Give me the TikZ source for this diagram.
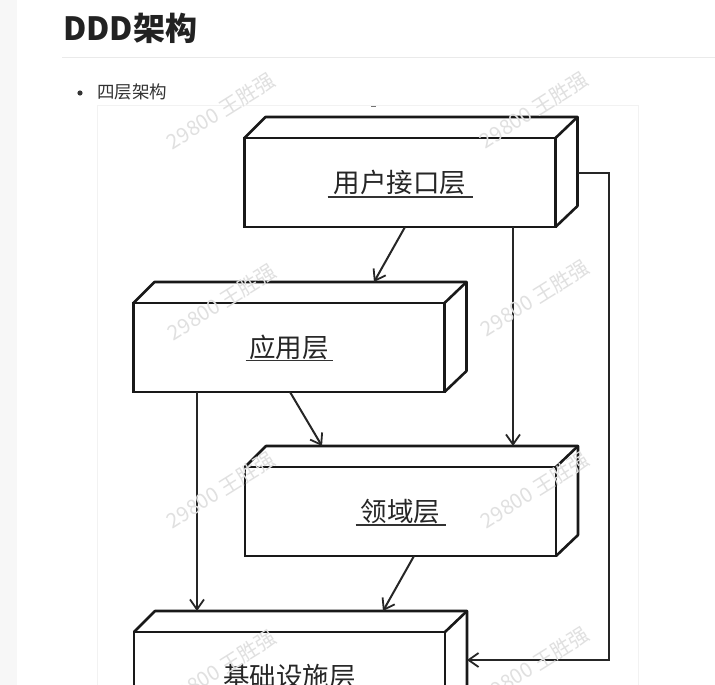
\documentclass[tikz,border=0pt]{standalone}
\usepackage{fontspec}
\setmainfont{Noto Sans CJK SC}
\usetikzlibrary{arrows.meta,calc}
\definecolor{stripgray}{HTML}{F7F7F7}
\definecolor{rulegray}{HTML}{EAEAEA}
\definecolor{textdark}{HTML}{333333}
\definecolor{titledark}{HTML}{222222}
\newcommand\tdfaces[1]{%
  \draw[edge3d] (#1.north west) -- ([shift={(21,-21)}]#1.north west)
     -- ([shift={(22,-21)}]#1.north east) -- ([shift={(22,-21)}]#1.south east)
     -- (#1.south east);
  \draw[edge3d] (#1.north east) -- ([shift={(22,-21)}]#1.north east);}
\newcommand\lblline[3]{%
  \draw[ulline] ([shift={(-#2,#3)}]#1.center) -- ([shift={(#2,#3)}]#1.center);}
\begin{document}
\begin{tikzpicture}[x=1pt,y=-1pt,
  face/.style={draw=black!90, line width=2.6pt, fill=white, minimum width=311pt,
    minimum height=89pt, inner sep=0pt, outer sep=0pt,
    font=\fontsize{26.5}{30}\selectfont, text=black!85},
  edge3d/.style={draw=black!90, line width=2.6pt, line join=round, line cap=round},
  ulline/.style={draw=black!80, line width=1.7pt},
  conn/.style={draw=black!85, line width=2pt,
    -{Straight Barb[length=10pt,width=14pt,line width=1.8pt]}},
  wm/.style={text=black!12, font=\fontsize{20.5}{24}\selectfont, rotate=32, inner sep=0pt}
]
\useasboundingbox (0,0) rectangle (715,685);
\clip (0,0) rectangle (715,685);
\fill[white] (0,0) rectangle (715,685);
\fill[stripgray] (0,0) rectangle (17,685);
% title
\node[anchor=base west, inner sep=0pt, text=titledark, font=\fontsize{32}{38}\selectfont\bfseries] (title) at (63,41) {DDD架构};
\draw[rulegray, line width=1pt] (62,57.5) -- (715,57.5);
% bullet
\fill[textdark] (80,93) circle (2.6);
\node[anchor=base west, inner sep=0pt, text=textdark, font=\fontsize{17.5}{21}\selectfont] (bullet) at (97,99) {四层架构};
% image area
\draw[black!5, line width=0.8pt, fill=white] (97.5,105.5) rectangle (638.5,700);
\draw[black!55, line width=1pt] (371,106) -- (376,106);
% boxes
\node[face] (ui) at (400,182.5) {用户接口层};
\tdfaces{ui}
\lblline{ui}{72.5}{14.5}
\node[face] (app) at (289,347.5) {应用层};
\tdfaces{app}
\lblline{app}{43.5}{13}
\node[face] (dom) at (400.5,511.5) {领域层};
\tdfaces{dom}
\lblline{dom}{45}{13.5}
\node[face] (infra) at (289.5,676.5) {基础设施层};
\tdfaces{infra}
\lblline{infra}{72.5}{14.5}
% connectors
\draw[conn] ([xshift=5]ui.south) -- ([shift={(85,-21)}]app.north);
\draw[conn] ([xshift=113]ui.south) -- ([shift={(112.5,-21)}]dom.north);
\draw[conn] ([xshift=1]app.south) -- ([shift={(-78.5,-21)}]dom.north);
\draw[conn] ([xshift=-92]app.south) -- ([shift={(-92.5,-21)}]infra.north);
\draw[conn] ([xshift=13.5]dom.south) -- ([shift={(93.5,-21)}]infra.north);
\draw[conn] ([shift={(22,-9.5)}]ui.east) -- ++(31,0) |- ([shift={(22,-16.5)}]infra.east);
% watermarks
\node[wm] (wm1) at (221,111) {29800 王胜强};
\node[wm] (wm2) at (534,110) {29800 王胜强};
\node[wm] (wm3) at (222,302) {29800 王胜强};
\node[wm] (wm4) at (535,298) {29800 王胜强};
\node[wm] (wm5) at (221,490) {29800 王胜强};
\node[wm] (wm6) at (535,490) {29800 王胜强};
\node[wm] (wm7) at (222,668) {29800 王胜强};
\node[wm] (wm8) at (535,665) {29800 王胜强};
\end{tikzpicture}
\end{document}
